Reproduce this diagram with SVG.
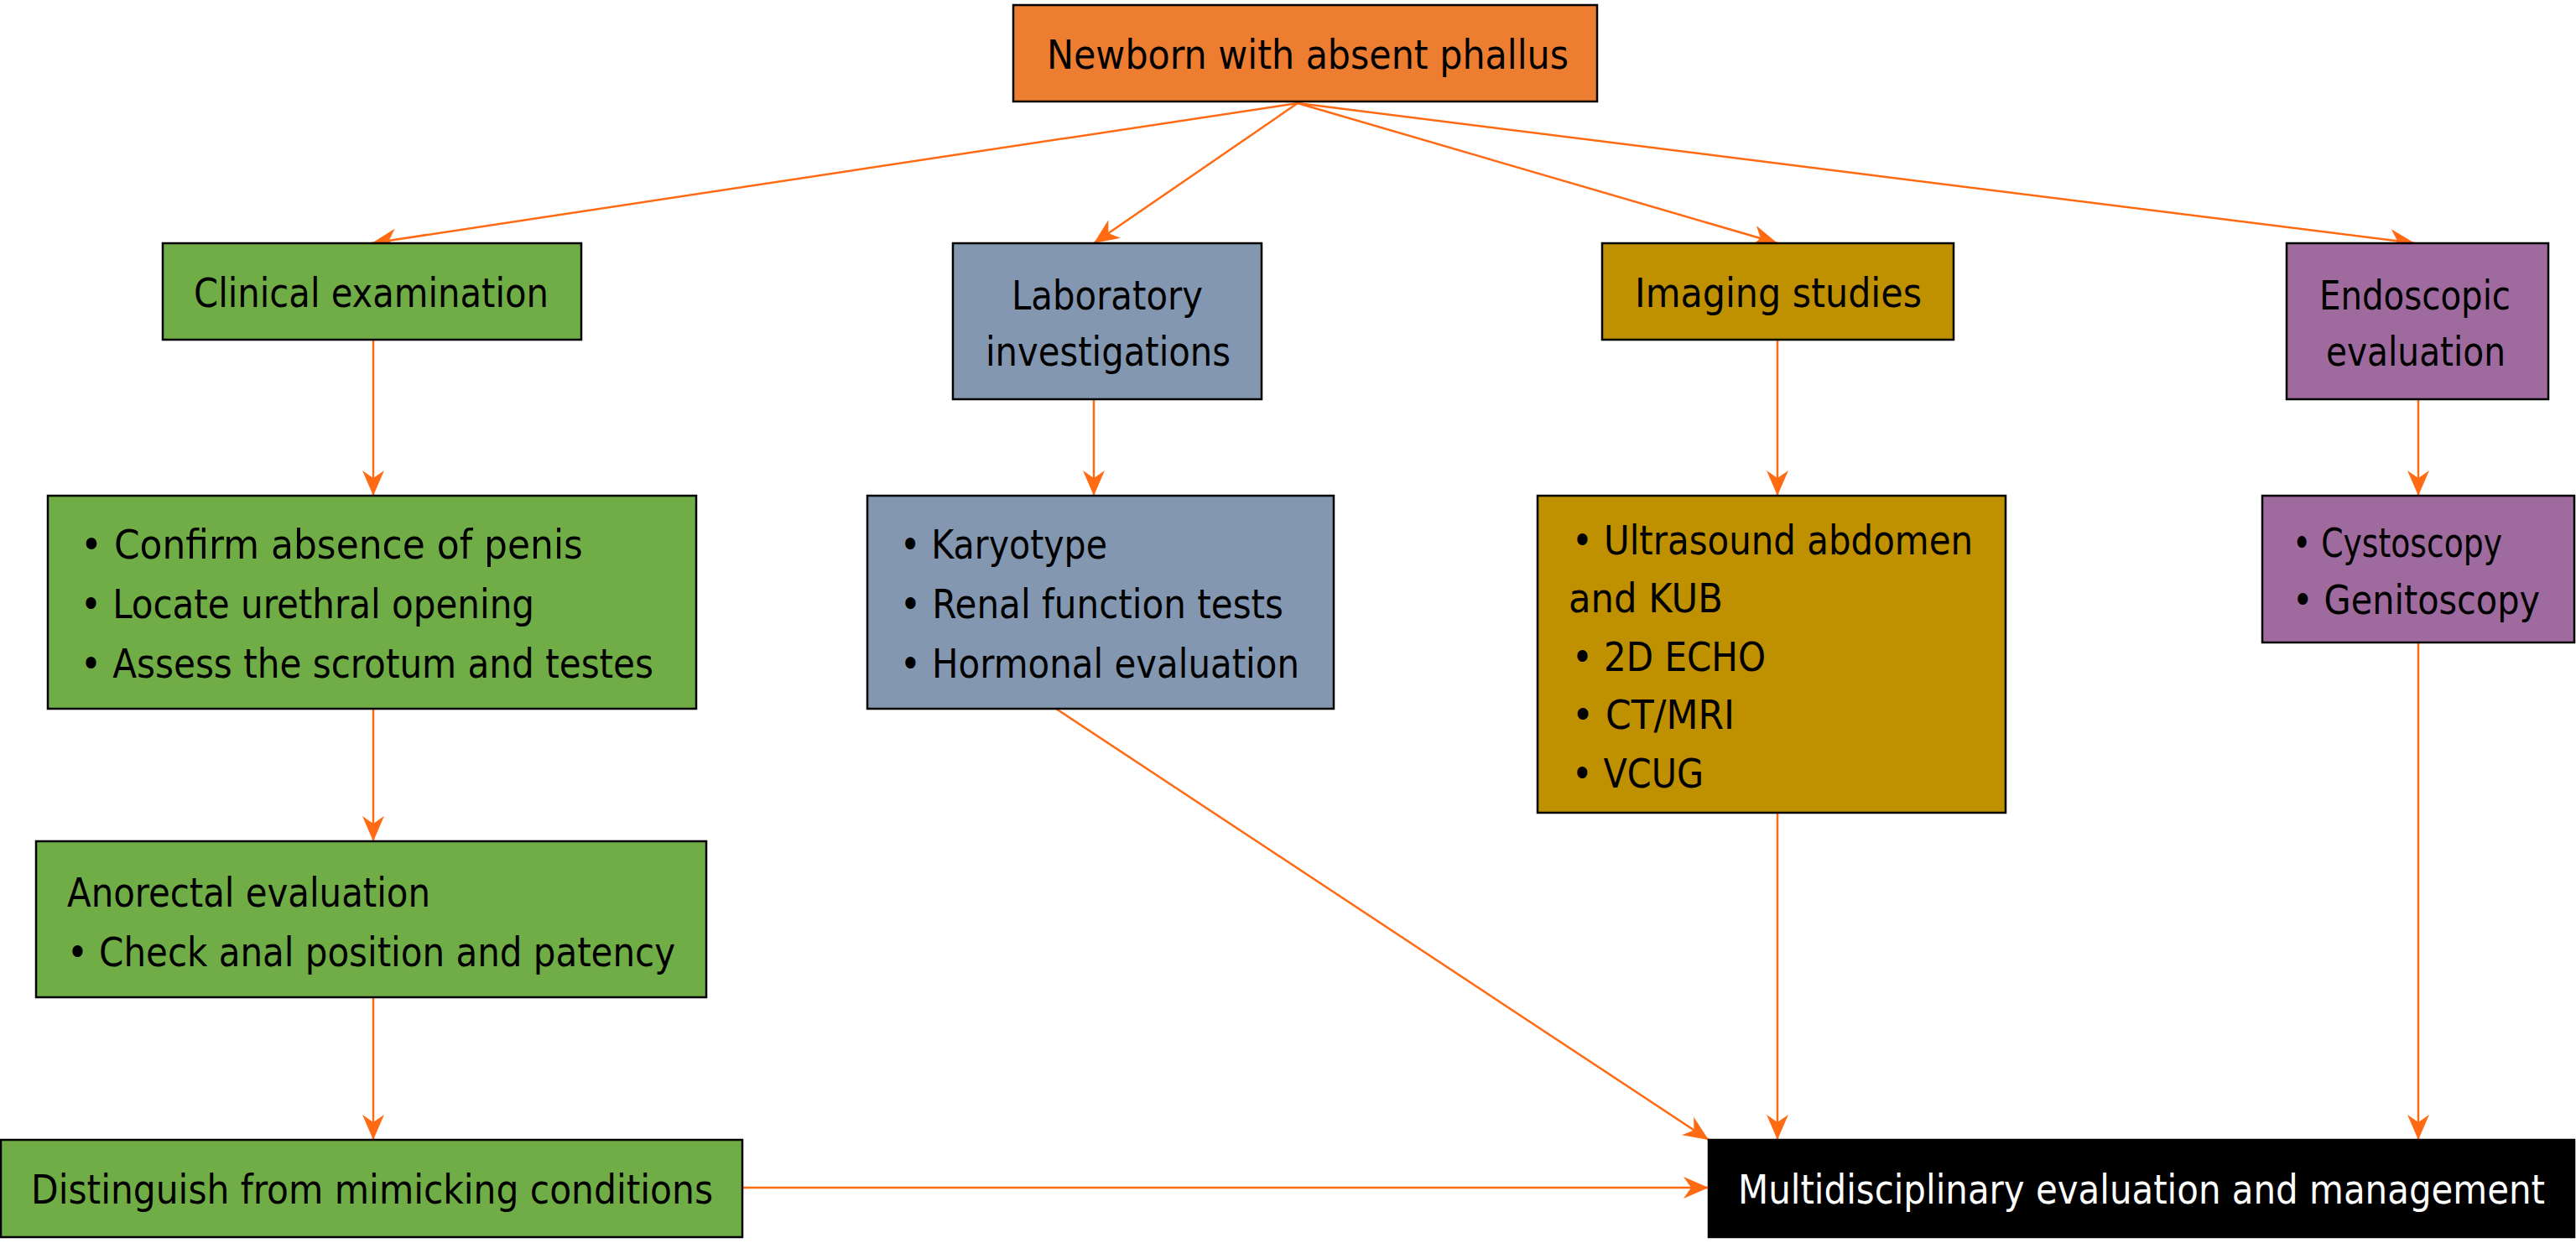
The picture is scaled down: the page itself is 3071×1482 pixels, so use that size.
<svg xmlns="http://www.w3.org/2000/svg" width="3071" height="1482" viewBox="0 0 3071 1482">
<defs>
<style>
.box{stroke:#000;stroke-width:2.5}
.g{fill:#70AD47}.b{fill:#8497B0}.y{fill:#BF9000}.p{fill:#9F6A9E}.o{fill:#ED7D31}.k{fill:#000}
text{font-family:"DejaVu Sans",Verdana,sans-serif;font-size:48px;fill:#000}
text.n{font-family:"DejaVu Sans Condensed","DejaVu Sans",sans-serif;font-stretch:condensed}
.w{fill:#fff}
.c{stroke:#FF6A13;stroke-width:2.5;fill:none;marker-end:url(#ah)}
</style>
<marker id="ah" markerUnits="userSpaceOnUse" markerWidth="32" markerHeight="26" refX="30" refY="13" orient="auto" viewBox="0 0 32 26">
<path d="M0,0 L30,13 L0,26 L9,13 Z" fill="#FF6A13"/>
</marker>
</defs>
<rect width="3071" height="1482" fill="#fff"/>
<g id="connectors">
<line class="c" x1="1547" y1="123" x2="443" y2="290"/>
<line class="c" x1="1547" y1="123" x2="1304" y2="290"/>
<line class="c" x1="1547" y1="123" x2="2119" y2="290"/>
<line class="c" x1="1547" y1="123" x2="2879" y2="290"/>
<line class="c" x1="445" y1="405" x2="445" y2="591"/>
<line class="c" x1="445" y1="845" x2="445" y2="1003"/>
<line class="c" x1="445" y1="1189" x2="445" y2="1359"/>
<line class="c" x1="1304" y1="476" x2="1304" y2="591"/>
<line class="c" x1="2119" y1="405" x2="2119" y2="591"/>
<line class="c" x1="2883" y1="476" x2="2883" y2="591"/>
<line class="c" x1="1259" y1="845" x2="2037" y2="1359"/>
<line class="c" x1="2119" y1="969" x2="2119" y2="1359"/>
<line class="c" x1="2883" y1="766" x2="2883" y2="1359"/>
<line class="c" x1="885" y1="1416" x2="2037" y2="1416"/>
</g>
<g id="n-top"><rect class="box o" x="1208" y="6" width="696" height="115"/>
<text class="n" x="1248" y="82" textLength="622" lengthAdjust="spacingAndGlyphs">Newborn with absent phallus</text></g>
<g id="n-clinical"><rect class="box g" x="194" y="290" width="499" height="115"/>
<text class="n" x="231" y="366" textLength="423" lengthAdjust="spacingAndGlyphs">Clinical examination</text></g>
<g id="n-lab"><rect class="box b" x="1136" y="290" width="368" height="186"/>
<text x="1206" y="369" textLength="228" lengthAdjust="spacingAndGlyphs">Laboratory</text>
<text x="1175" y="436" textLength="292" lengthAdjust="spacingAndGlyphs">investigations</text></g>
<g id="n-imaging"><rect class="box y" x="1910" y="290" width="419" height="115"/>
<text x="1949" y="366" textLength="342" lengthAdjust="spacingAndGlyphs">Imaging studies</text></g>
<g id="n-endo"><rect class="box p" x="2726" y="290" width="312" height="186"/>
<text class="n" x="2765" y="369" textLength="228" lengthAdjust="spacingAndGlyphs">Endoscopic</text>
<text class="n" x="2773" y="436" textLength="214" lengthAdjust="spacingAndGlyphs">evaluation</text></g>
<g id="n-clinical-list"><rect class="box g" x="57" y="591" width="773" height="254"/>
<text class="n" x="96" y="666" textLength="599" lengthAdjust="spacingAndGlyphs">• Confirm absence of penis</text>
<text class="n" x="96" y="737" textLength="541" lengthAdjust="spacingAndGlyphs">• Locate urethral opening</text>
<text class="n" x="96" y="808" textLength="683" lengthAdjust="spacingAndGlyphs">• Assess the scrotum and testes</text></g>
<g id="n-lab-list"><rect class="box b" x="1034" y="591" width="556" height="254"/>
<text x="1073" y="666" textLength="247" lengthAdjust="spacingAndGlyphs">• Karyotype</text>
<text x="1073" y="737" textLength="457" lengthAdjust="spacingAndGlyphs">• Renal function tests</text>
<text x="1073" y="808" textLength="476" lengthAdjust="spacingAndGlyphs">• Hormonal evaluation</text></g>
<g id="n-imaging-list"><rect class="box y" x="1833" y="591" width="558" height="378"/>
<text x="1874" y="661" textLength="478" lengthAdjust="spacingAndGlyphs">• Ultrasound abdomen</text>
<text x="1870" y="730" textLength="184" lengthAdjust="spacingAndGlyphs">and KUB</text>
<text x="1874" y="800" textLength="231" lengthAdjust="spacingAndGlyphs">• 2D ECHO</text>
<text x="1874" y="869" textLength="194" lengthAdjust="spacingAndGlyphs">• CT/MRI</text>
<text x="1874" y="939" textLength="157" lengthAdjust="spacingAndGlyphs">• VCUG</text></g>
<g id="n-endo-list"><rect class="box p" x="2697" y="591" width="372" height="175"/>
<text class="n" x="2733" y="664" textLength="250" lengthAdjust="spacingAndGlyphs">• Cystoscopy</text>
<text class="n" x="2733" y="732" textLength="295" lengthAdjust="spacingAndGlyphs">• Genitoscopy</text></g>
<g id="n-anorectal"><rect class="box g" x="43" y="1003" width="799" height="186"/>
<text class="n" x="80" y="1081" textLength="433" lengthAdjust="spacingAndGlyphs">Anorectal evaluation</text>
<text class="n" x="80" y="1152" textLength="725" lengthAdjust="spacingAndGlyphs">• Check anal position and patency</text></g>
<g id="n-distinguish"><rect class="box g" x="1" y="1359" width="884" height="116"/>
<text class="n" x="37" y="1435" textLength="813" lengthAdjust="spacingAndGlyphs">Distinguish from mimicking conditions</text></g>
<g id="n-multi"><rect class="box k" x="2037" y="1359" width="1032" height="116"/>
<text class="n w" x="2072" y="1435" textLength="962" lengthAdjust="spacingAndGlyphs">Multidisciplinary evaluation and management</text></g>
</svg>
